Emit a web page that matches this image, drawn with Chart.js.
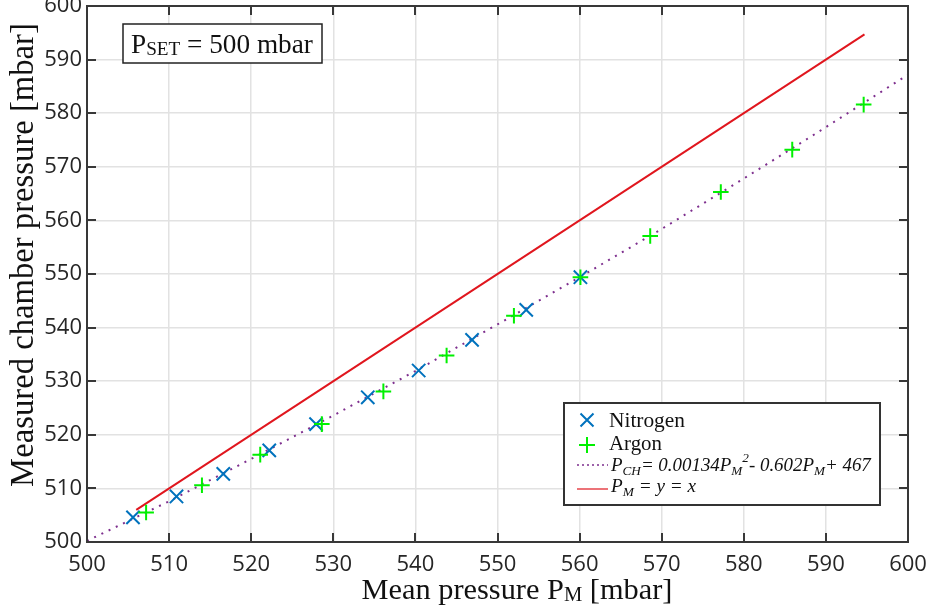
<!DOCTYPE html>
<html><head><meta charset="utf-8">
<script src="https://cdn.jsdelivr.net/npm/chart.js@4/dist/chart.umd.min.js"></script>
<style>html,body{margin:0;padding:0;background:#fff;}#wrap{width:935px;height:612px;position:relative;}</style>
</head><body><div id="wrap"><canvas id="c" width="935" height="612"></canvas></div>
<script>
// ---- data ----
const nitrogenX = [505.6, 510.9, 516.6, 522.2, 527.9, 534.2, 540.4, 546.9, 553.5, 560.1];
const nitrogenY = [504.6, 508.5, 512.7, 517.1, 522.0, 527.0, 532.0, 537.7, 543.3, 549.4];
const argonX = [507.2, 514.0, 521.1, 528.6, 536.1, 543.8, 552.0, 560.1, 568.6, 577.2, 585.9, 594.6];
const argonY = [505.5, 510.6, 516.3, 522.0, 528.1, 534.8, 542.2, 549.4, 557.1, 565.3, 573.2, 581.6];
const fitX = [500, 510, 520, 530, 540, 550, 560, 570, 580, 590, 600];
const fitY = [500.2, 507.6, 515.5, 523.6, 531.9, 540.6, 549.4, 558.4, 567.8, 577.4, 587.2];
const identityX = [506.0, 594.7];
const identityY = [506.0, 594.7];
const xTicks = [500, 510, 520, 530, 540, 550, 560, 570, 580, 590, 600];
const yTicks = [500, 510, 520, 530, 540, 550, 560, 570, 580, 590, 600];
const seriesNames = ['Nitrogen', 'Argon'];

const pts = (xs, ys) => xs.map((x, i) => ({x: x, y: ys[i]}));
const SERIF = '"Liberation Serif", "DejaVu Serif", serif';
const SANS = '"Open Sans", "Noto Sans", sans-serif';

function fnt(s, k) { return (s.it ? 'italic ' : '') + (s.size * k) + 'px ' + SERIF; }
// draws a run of text segments; if targetW is given, the run is scaled to that width
function drawRich(ctx, segs, x, y, align, color, targetW) {
  let w = 0;
  segs.forEach(s => { ctx.font = fnt(s, 1); w += ctx.measureText(s.t).width; });
  const k = targetW ? targetW / w : 1;
  w = 0;
  segs.forEach(s => { ctx.font = fnt(s, k); s.w = ctx.measureText(s.t).width; w += s.w; });
  let cx = align === 'center' ? x - w / 2 : (align === 'right' ? x - w : x);
  ctx.fillStyle = color; ctx.textAlign = 'left'; ctx.textBaseline = 'alphabetic';
  segs.forEach(s => {
    ctx.font = fnt(s, k);
    ctx.fillText(s.t, cx, y + (s.dy || 0) * k); cx += s.w;
  });
}

const decor = {
  id: 'decor',
  afterDraw(chart) {
    const ctx = chart.ctx, a = chart.chartArea;
    const xs = chart.scales.x, ys = chart.scales.y;
    ctx.save();
    // frame
    ctx.strokeStyle = '#383838'; ctx.lineWidth = 2;
    ctx.strokeRect(a.left, a.top, a.right - a.left, a.bottom - a.top);
    // inward ticks on all four sides
    ctx.beginPath();
    const tl = 9;
    xTicks.forEach(v => {
      const p = Math.round(xs.getPixelForValue(v));
      ctx.moveTo(p, a.bottom); ctx.lineTo(p, a.bottom - tl);
      ctx.moveTo(p, a.top); ctx.lineTo(p, a.top + tl);
    });
    yTicks.forEach(v => {
      const p = Math.round(ys.getPixelForValue(v));
      ctx.moveTo(a.left, p); ctx.lineTo(a.left + tl, p);
      ctx.moveTo(a.right, p); ctx.lineTo(a.right - tl, p);
    });
    ctx.stroke();

    // axis titles
    drawRich(ctx, [
      {t: 'Mean pressure P', size: 28},
      {t: 'M', size: 19, dy: 2},
      {t: ' [mbar]', size: 28}
    ], 517, 599, 'center', '#111', 311);
    ctx.save();
    ctx.translate(33, 255); ctx.rotate(-Math.PI / 2);
    drawRich(ctx, [{t: 'Measured chamber pressure [mbar]', size: 28}], 0, 0, 'center', '#111', 464);
    ctx.restore();

    // annotation box
    ctx.fillStyle = '#fff'; ctx.fillRect(123, 24, 199, 39);
    ctx.strokeStyle = '#222'; ctx.lineWidth = 1.5; ctx.strokeRect(123, 24, 199, 39);
    drawRich(ctx, [
      {t: 'P', size: 27},
      {t: 'SET', size: 19, dy: 2},
      {t: ' = 500 mbar', size: 27}
    ], 131, 53, 'left', '#111', 182);

    // legend
    const L = {x: 564, y: 403, w: 316, h: 102};
    ctx.fillStyle = '#fff'; ctx.fillRect(L.x, L.y, L.w, L.h);
    ctx.strokeStyle = '#333'; ctx.lineWidth = 2; ctx.strokeRect(L.x, L.y, L.w, L.h);
    const ds = chart.data.datasets;
    // nitrogen marker (x)
    ctx.lineWidth = 2; ctx.strokeStyle = ds[0].borderColor;
    ctx.beginPath(); ctx.moveTo(580.5, 413.5); ctx.lineTo(593.5, 426.5); ctx.moveTo(593.5, 413.5); ctx.lineTo(580.5, 426.5); ctx.stroke();
    // argon marker (+)
    ctx.strokeStyle = ds[1].borderColor;
    ctx.beginPath(); ctx.moveTo(579, 445); ctx.lineTo(595, 445); ctx.moveTo(587, 437); ctx.lineTo(587, 453); ctx.stroke();
    // fit sample
    ctx.strokeStyle = ds[2].borderColor; ctx.lineWidth = 1.5; ctx.setLineDash([2, 3]);
    ctx.beginPath(); ctx.moveTo(577, 465); ctx.lineTo(608, 465); ctx.stroke();
    ctx.setLineDash([]);
    ctx.strokeStyle = ds[3].borderColor; ctx.lineWidth = 1.2;
    ctx.beginPath(); ctx.moveTo(577, 489); ctx.lineTo(608, 489); ctx.stroke();
    drawRich(ctx, [{t: seriesNames[0], size: 20}], 609, 427, 'left', '#111', 76);
    drawRich(ctx, [{t: seriesNames[1], size: 20}], 609, 450, 'left', '#111', 53);
    drawRich(ctx, [
      {t: 'P', size: 20, it: true}, {t: 'CH', size: 14, it: true, dy: 4},
      {t: '= 0.00134P', size: 20, it: true}, {t: 'M', size: 14, it: true, dy: 4},
      {t: '2', size: 14, it: true, dy: -9},
      {t: '- 0.602P', size: 20, it: true}, {t: 'M', size: 14, it: true, dy: 4},
      {t: '+ 467', size: 20, it: true}
    ], 611, 471, 'left', '#111', 260);
    drawRich(ctx, [
      {t: 'P', size: 20, it: true}, {t: 'M', size: 14, it: true, dy: 4},
      {t: ' = y = x', size: 20, it: true}
    ], 611, 492, 'left', '#111', 85);
    ctx.restore();
  }
};

new Chart(document.getElementById('c'), {
  type: 'scatter',
  data: {
    datasets: [
      {label: seriesNames[0], data: pts(nitrogenX, nitrogenY), pointStyle: 'crossRot', pointRadius: 9.4,
       borderColor: '#0072BD', backgroundColor: '#0072BD', pointBorderWidth: 2, showLine: false, order: 1},
      {label: seriesNames[1], data: pts(argonX, argonY), pointStyle: 'cross', pointRadius: 7.8,
       borderColor: '#00F000', backgroundColor: '#00F000', pointBorderWidth: 2, showLine: false, order: 0},
      {label: 'fit', data: pts(fitX, fitY), showLine: true, borderColor: '#7E2F8E', borderWidth: 2,
       borderDash: [2, 6], pointRadius: 0, fill: false, order: 3},
      {label: 'identity', data: pts(identityX, identityY), showLine: true, borderColor: '#E0161E', borderWidth: 2,
       pointRadius: 0, fill: false, order: 2}
    ]
  },
  options: {
    responsive: false, animation: false, devicePixelRatio: 1,
    layout: {padding: {top: 6, right: 27, left: 0, bottom: 0}, autoPadding: false},
    plugins: {legend: {display: false}, tooltip: {enabled: false}},
    scales: {
      x: {
        type: 'linear', min: 500, max: 600,
        afterBuildTicks(s) { s.ticks = xTicks.map(v => ({value: v})); },
        ticks: {font: {family: SANS, size: 22}, color: '#262626', padding: 10, maxRotation: 0},
        grid: {color: '#e2e2e2', lineWidth: 1.5, drawTicks: false},
        border: {display: false},
        afterFit(s) { s.height = 70; s.paddingLeft = 0; s.paddingRight = 0; }
      },
      y: {
        type: 'linear', min: 500, max: 600,
        afterBuildTicks(s) { s.ticks = yTicks.map(v => ({value: v})); },
        ticks: {font: {family: SANS, size: 22}, color: '#262626', padding: 5},
        grid: {color: '#e2e2e2', lineWidth: 1.5, drawTicks: false},
        border: {display: false},
        afterFit(s) { s.width = 87; s.paddingTop = 0; s.paddingBottom = 0; }
      }
    }
  },
  plugins: [decor]
});
</script>
</body></html>
